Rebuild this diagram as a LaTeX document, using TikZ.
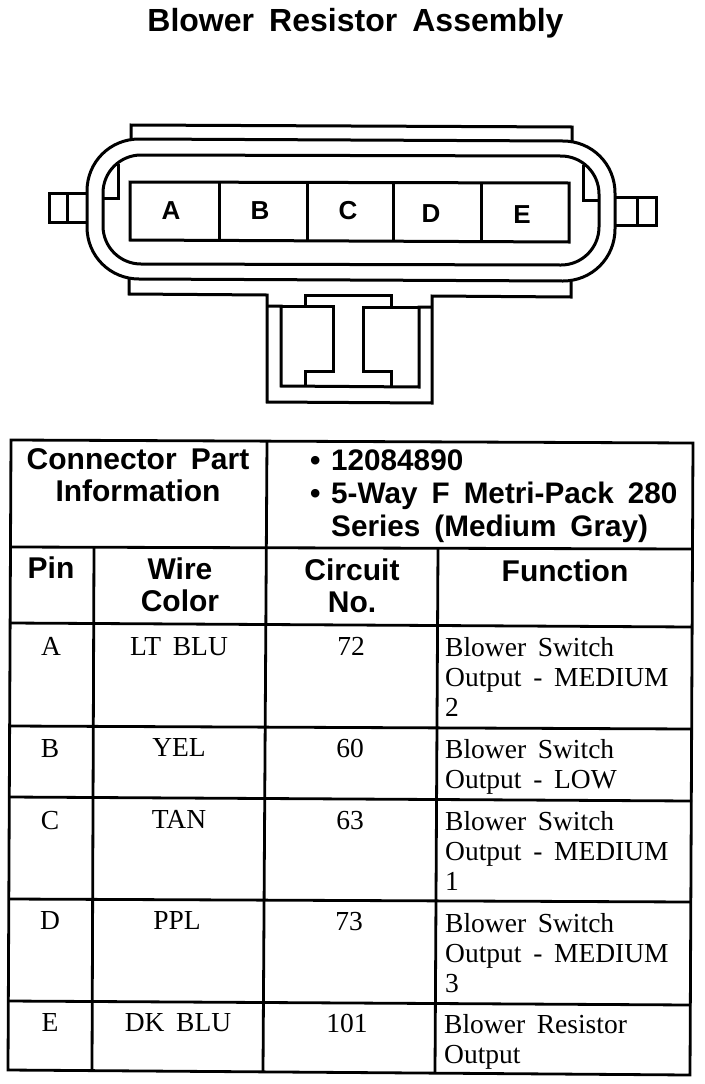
\documentclass[tikz,border=0pt]{standalone}
\usepackage{fontspec}
\setmainfont{Liberation Serif}[WordSpace=1.7]
\newfontfamily\hdfont{Liberation Sans}[WordSpace=1.7]
\tikzset{
  x=1pt,y=-1pt,
  ink/.style={draw=black,line width=3pt,line join=miter},
  thin ink/.style={draw=black,line width=2.8pt},
  title text/.style={inner sep=0pt,anchor=base,font=\hdfont\bfseries\fontsize{32}{36}\selectfont},
  pin label/.style={inner sep=0pt,anchor=base,font=\hdfont\bfseries\fontsize{26}{28}\selectfont},
  head text/.style={inner sep=0pt,anchor=north,align=center,font=\hdfont\bfseries\fontsize{30}{32}\selectfont},
  info text/.style={inner sep=0pt,anchor=north west,align=left,font=\hdfont\bfseries\fontsize{29.7}{33}\selectfont},
  cell text/.style={inner sep=0pt,anchor=base,font=\fontsize{27.5}{30}\selectfont},
  func text/.style={inner sep=0pt,anchor=north west,align=left,font=\fontsize{27.5}{30}\selectfont},
}
\newcommand{\bulletbox}[1]{\makebox[21pt][l]{#1}}
\begin{document}
\begin{tikzpicture}
\useasboundingbox[fill=white] (0,0) rectangle (704,1084);
\node[title text] (title) at (355.5,31) {Blower Resistor Assembly};
% connector body
\draw[ink] (131,139) -- (131,125) -- (572,127) -- (572,141);
\draw[ink] (129,279) -- (129,294) -- (267,295) -- (267,402) -- (432,403) -- (432,296) -- (571,297) -- (571,281);
\draw[ink] (139,139) .. controls (110,139) and (87,162) .. (87,191) -- (87,227)
  .. controls (87,256) and (110,279) .. (139,279) -- (563,281)
  .. controls (592,281) and (615,258) .. (615,229) -- (615,193)
  .. controls (615,164) and (592,141) .. (563,141) -- cycle;
\draw[ink] (141,155) .. controls (120,155) and (103,172) .. (103,193) -- (103,226)
  .. controls (103,247) and (120,264) .. (141,264) -- (561,265)
  .. controls (582,265) and (599,248) .. (599,227) -- (599,194)
  .. controls (599,173) and (582,156) .. (561,156) -- cycle;
% side tabs
\draw[ink] (87,193) -- (49,193) -- (49,222) -- (87,222) (67,193) -- (67,222);
\draw[ink] (615,197) -- (656,197) -- (656,225) -- (615,225) (637,197) -- (637,225);
% keys
\draw[ink] (118,164) -- (118,198) -- (103,198);
\draw[ink] (583,165) -- (583,200) -- (599,200);
% cavities
\draw[ink] (130,182) -- (569,183) -- (569,242) -- (130,240) -- cycle;
\draw[ink] (219,182) -- (219,241) (307,182) -- (307,241) (393,183) -- (393,241) (481,183) -- (481,241);
% lock
\draw[ink] (267,306) -- (281,306) -- (281,386) -- (419,387) -- (419,307) -- (432,307);
\draw[ink] (305,306) -- (305,295) -- (391,295) -- (391,307);
\draw[ink] (281,306) -- (333,306) -- (333,371) -- (305,371) -- (305,386);
\draw[ink] (419,307) -- (363,307) -- (363,371) -- (391,371) -- (391,387);
% pin letters
\node[pin label] (pa) at (171,219.5) {A};
\node[pin label] (pb) at (260,219.5) {B};
\node[pin label] (pc) at (348,219.5) {C};
\node[pin label] (pd) at (431,222.5) {D};
\node[pin label] (pe) at (522,223.5) {E};
% table
\draw[thin ink] (11,440) -- (693,443) -- (690,1075) -- (8,1070) -- cycle;
\draw[thin ink] (10.5,547) -- (693,549) (10,623) -- (692.5,627) (9.5,726) -- (692,729)
  (9,797) -- (692,801) (9,899) -- (691,902) (8,1001) -- (691,1005);
\draw[thin ink] (94,547) -- (92,1070) (267,441) -- (263,1072) (438,548) -- (435,1073);
% headers
\node[head text] (cpi) at (138,448) {Connector Part\\Information};
\node[info text] (part) at (310,449.5) {\bulletbox{\textbullet}12084890\\\bulletbox{\textbullet}5-Way F Metri-Pack 280\\\bulletbox{}Series (Medium Gray)};
\node[head text] (hpin) at (51,557) {Pin};
\node[head text] (hwire) at (180,558) {Wire\\Color};
\node[head text] (hcirc) at (352,559) {Circuit\\No.};
\node[head text] (hfunc) at (565,560) {Function};
% rows
\node[cell text] (a1) at (51,655) {A};
\node[cell text] (a2) at (179,655) {LT BLU};
\node[cell text] (a3) at (351,655) {72};
\node[func text] (a4) at (445,637.5) {Blower Switch\\Output - MEDIUM\\2};
\node[cell text] (b1) at (50,757) {B};
\node[cell text] (b2) at (179,756) {YEL};
\node[cell text] (b3) at (350,757) {60};
\node[func text] (b4) at (445,739.5) {Blower Switch\\Output - LOW};
\node[cell text] (c1) at (50,829) {C};
\node[cell text] (c2) at (179,828) {TAN};
\node[cell text] (c3) at (350,829) {63};
\node[func text] (c4) at (445,811.5) {Blower Switch\\Output - MEDIUM\\1};
\node[cell text] (d1) at (50,929) {D};
\node[cell text] (d2) at (177,929) {PPL};
\node[cell text] (d3) at (349,930) {73};
\node[func text] (d4) at (445,913) {Blower Switch\\Output - MEDIUM\\3};
\node[cell text] (e1) at (50,1031) {E};
\node[cell text] (e2) at (178,1031) {DK BLU};
\node[cell text] (e3) at (347,1032) {101};
\node[func text] (e4) at (444,1014.5) {Blower Resistor\\Output};
\end{tikzpicture}
\end{document}
